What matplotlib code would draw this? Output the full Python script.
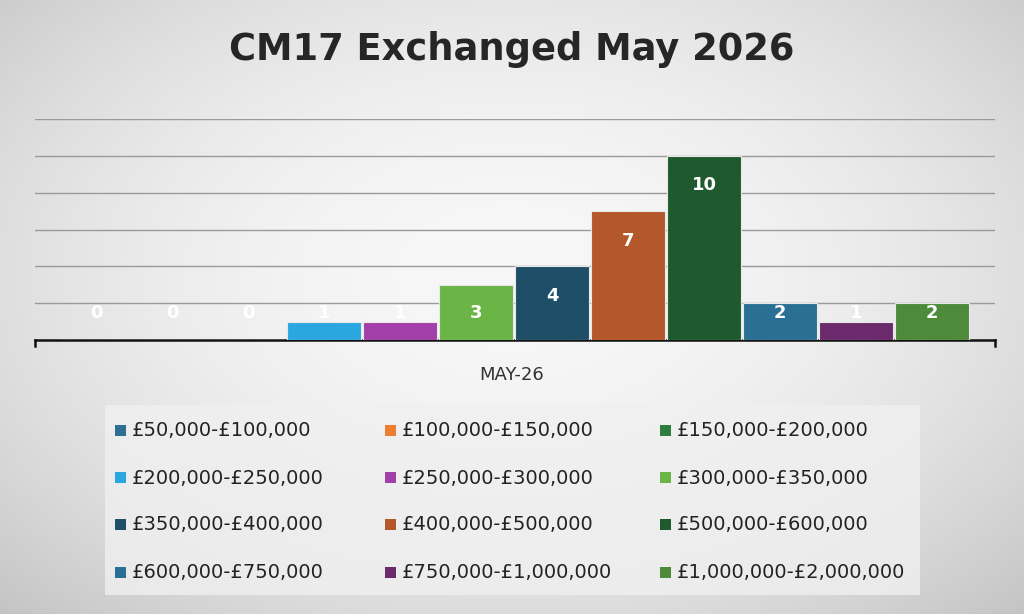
import numpy as np
import matplotlib
matplotlib.use("Agg")
import matplotlib.pyplot as plt
from matplotlib.patches import Rectangle

categories = ["£50,000-£100,000", "£100,000-£150,000", "£150,000-£200,000",
              "£200,000-£250,000", "£250,000-£300,000", "£300,000-£350,000",
              "£350,000-£400,000", "£400,000-£500,000", "£500,000-£600,000",
              "£600,000-£750,000", "£750,000-£1,000,000", "£1,000,000-£2,000,000"]
values = [0, 0, 0, 1, 1, 3, 4, 7, 10, 2, 1, 2]
colors = ["#2e6f94", "#ed7d31", "#2e7d3e", "#2aa7df", "#a23fa8", "#6ab545",
          "#1f4e68", "#b4572a", "#1e5a2e", "#2a6f94", "#6a2a6b", "#4d8a3a"]
xlabel = "MAY-26"
title = "CM17 Exchanged May 2026"

W, H = 1024, 614
fig = plt.figure(figsize=(W/100, H/100), dpi=100)

bg = fig.add_axes([0, 0, 1, 1], zorder=-10)
yy, xx = np.mgrid[0:1:300j, 0:1:500j]
r = np.sqrt(((xx-0.5)/0.75)**2 + ((yy-0.45)/0.8)**2)
g = 0.97 - 0.22*r**2
bg.imshow(np.dstack([g, g, g]), extent=[0, 1, 0, 1], aspect="auto", origin="upper")
bg.axis("off")

fig.text(0.5, 1-50/H, title, ha="center", va="center", fontsize=26.5,
         fontweight="bold", color="#262626")

ax = fig.add_axes([35/W, 1-340/H, 960/W, 221/H])
ax.patch.set_alpha(0)
n = len(values)
x = np.arange(n)
ax.bar(x, values, width=0.97, color=colors, edgecolor="#e8e8e8", linewidth=0.8, zorder=3)
ax.set_xlim(-0.5 - 23/76, n - 0.5 + 25/76)
ax.set_ylim(0, 12)
ax.set_yticks(np.arange(2, 13, 2))
ax.yaxis.grid(True, color="#9a9a9a", linewidth=1)
ax.tick_params(left=False, labelleft=False, bottom=False, labelbottom=False)
for s in ["top", "right", "left"]:
    ax.spines[s].set_visible(False)
ax.spines["bottom"].set_color("#111111")
ax.spines["bottom"].set_linewidth(1.8)
lo, hi = ax.get_xlim()
ax.plot([lo, lo], [0, -0.3], color="#111", lw=1.8, clip_on=False)
ax.plot([hi, hi], [0, -0.3], color="#111", lw=1.8, clip_on=False)
for xi, v in zip(x, values):
    ax.text(xi, max(v - 1.6, 1.45), str(v), ha="center", va="center",
            color="white", fontsize=13, fontweight="bold", zorder=4)

fig.text(512/W, 1-375/H, xlabel, ha="center", va="center", fontsize=13, color="#333")

fig.patches.append(Rectangle((105/W, 1-595/H), 815/W, 190/H, transform=fig.transFigure,
                             facecolor="#f0f0f0", edgecolor="none", alpha=0.8, zorder=-5))
colx = [115, 385, 660]
rowy = [431, 478, 525, 573]
for i, (c, col) in enumerate(zip(categories, colors)):
    r_, cc = divmod(i, 3)
    fig.patches.append(Rectangle(((colx[cc])/W, 1-(rowy[r_]+5)/H), 11/W, 11/H,
                                 transform=fig.transFigure, facecolor=col, edgecolor="none"))
    fig.text((colx[cc]+17)/W, 1-rowy[r_]/H, c, ha="left", va="center",
             fontsize=14, color="#222")

fig.savefig("out.png", dpi=100)
